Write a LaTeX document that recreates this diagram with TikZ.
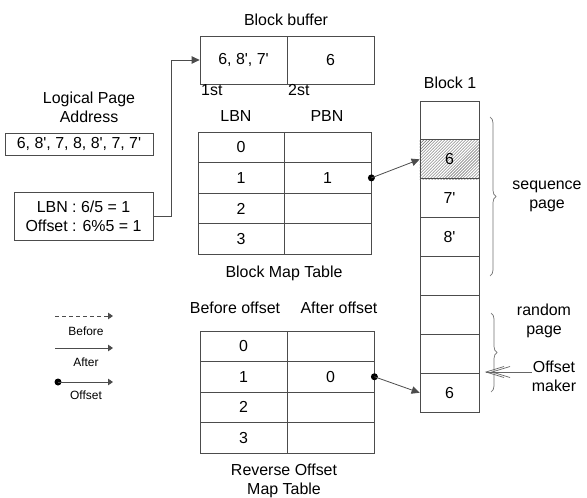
\documentclass[tikz,border=0pt]{standalone}
\usepackage{fontspec}
\setmainfont{Liberation Sans}
\usetikzlibrary{arrows.meta,patterns,decorations.pathreplacing}
% straight apostrophe, taken as a glyph so the TeX quote mapping leaves it alone
\newcommand\sq{\XeTeXglyph\XeTeXcharglyph"27\relax}

\tikzset{
  lbl/.style={inner sep=0pt, font=\fontsize{16}{19}\selectfont, text height=11.4bp, text depth=0pt},
  mlbl/.style={inner sep=0pt, font=\fontsize{16}{19}\selectfont, align=center},
  small/.style={inner sep=0pt, font=\fontsize{12}{14}\selectfont, text height=8.6bp, text depth=0pt},
  cell/.style={draw=black!70, line width=0.8bp, inner sep=0pt, font=\fontsize{16}{19}\selectfont},
  conn/.style={draw=black!70, line width=0.8bp},
  tip/.style={-{Triangle[length=8bp,width=7.5bp]}},
  ltip/.style={-{Triangle[length=5bp,width=6.5bp]}},
  dot/.style={fill=black, circle, inner sep=0pt, minimum size=7bp},
  bracebar/.style={draw=black!55, line width=0.7bp, decorate, decoration={brace, amplitude=6bp}},
  barb/.style={draw=black!60, line width=0.7bp},
}

\begin{document}
\begin{tikzpicture}[x=1bp, y=-1bp]
\useasboundingbox[fill=white] (0,0) rectangle (587,498);

% ---- block buffer ----
\node[lbl] (bbt) at (286,20) {Block buffer};
\node[cell, minimum width=87bp, minimum height=48bp] (bb0) at (243.5,60) {6, 8\sq, 7\sq};
\node[cell, minimum width=87bp, minimum height=48bp] (bb1) at (330.5,60) {6};
\node[lbl, anchor=west] (first) at (201,90) {1st};
\node[lbl, anchor=west] (second) at (288,90) {2st};

% ---- block map table ----
\node[lbl] (hlbn) at (236,116) {LBN};
\node[lbl] (hpbn) at (327,116) {PBN};
\foreach \i/\p in {0/,1/1,2/,3/} {
  \node[cell, minimum width=86bp, minimum height=30.6bp] (lbn\i) at (241,{147.3+30.6*\i}) {\i};
  \node[cell, minimum width=87bp, minimum height=30.6bp] (pbn\i) at (327.5,{147.3+30.6*\i}) {\p};
}
\node[lbl] (bmt) at (284,272) {Block Map Table};

% ---- reverse offset map table ----
\node[lbl] (hbef) at (235,308) {Before offset};
\node[lbl] (haft) at (339,308) {After offset};
\foreach \i/\p in {0/,1/0,2/,3/} {
  \node[cell, minimum width=87bp, minimum height=30.5bp] (bef\i) at (243.5,{346.25+30.5*\i}) {\i};
  \node[cell, minimum width=87bp, minimum height=30.5bp] (aft\i) at (330.5,{346.25+30.5*\i}) {\p};
}
\node[mlbl] (romt) at (284,480.5) {Reverse Offset\\Map Table};

% ---- block 1 ----
\node[lbl] (blkt) at (450,83) {Block 1};
\foreach \i/\t in {0/,1/,2/7\sq,3/8\sq,4/,5/,6/,7/6} {
  \node[cell, minimum width=59bp, minimum height=38.9bp] (blk\i) at (449.5,{120.45+38.9*\i}) {\t};
}
\fill[pattern=north east lines, pattern color=black!60] (blk1.south west) rectangle (blk1.north east);
\node[cell, minimum width=59bp, minimum height=38.9bp] at (blk1) {6};

% ---- braces ----
\draw[bracebar] (490,117) -- (490,276);
\node[mlbl] (seq) at (547,196) {sequence\\page};
\draw[bracebar] (491,313) -- (491,392);
\node[mlbl] (rnd) at (544,321) {random\\page};
\node[mlbl] (om) at (554,376.5) {Offset\\maker};
\coordinate (omtip) at (486,372);
\coordinate (omtip2) at (492,372);
\draw[barb] (om.west |- omtip) -- (omtip);
\draw[barb] ([shift={(18,-5.5)}]omtip) -- (omtip) -- ([shift={(18,5.5)}]omtip);
\draw[barb] ([shift={(18,-5.5)}]omtip2) -- (omtip2) -- ([shift={(18,5.5)}]omtip2);

% ---- mapping arrows ----
\node[dot] (d1) at (pbn1.east) {};
\draw[conn, tip] (d1.center) -- (blk1.west);
\node[dot] (d2) at (aft1.east) {};
\draw[conn, tip] (d2.center) -- (blk7.west);

% ---- logical page address ----
\node[mlbl] (lpa) at (89,107) {Logical Page\\Address};
\node[cell, minimum width=148bp, minimum height=22bp] (addr) at (79,144) {6, 8\sq, 7, 8, 8\sq, 7, 7\sq};
\node[cell, minimum width=139bp, minimum height=48bp, align=center] (calc) at (83.5,216)
  {LBN : 6/5 = 1\\Offset : 6\%5 = 1};
\draw[conn, tip] (calc.east) -- ++(18,0) |- (bb0.west);

% ---- legend ----
\coordinate (la1) at (55,316);  \coordinate (la2) at (113,316);
\draw[conn, ltip, dash pattern=on 4bp off 3bp] (la1) -- (la2);
\node[small] (lbef) at (86,331) {Before};
\coordinate (lb1) at (55,348);  \coordinate (lb2) at (113,348);
\draw[conn, ltip] (lb1) -- (lb2);
\node[small] (laft) at (86,362) {After};
\node[dot] (ldot) at (58,382) {};
\coordinate (lc2) at (113,382);
\draw[conn, ltip] (ldot.center) -- (lc2);
\node[small] (loff) at (86,395) {Offset};
\end{tikzpicture}
\end{document}
